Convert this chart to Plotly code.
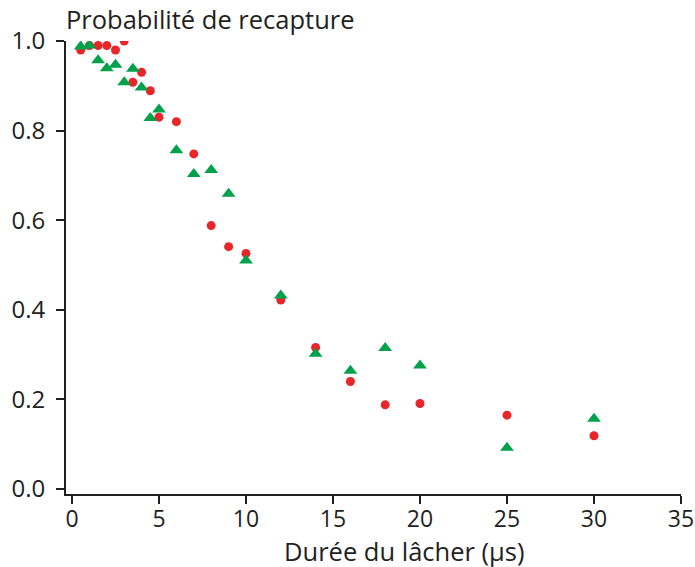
import plotly.graph_objects as go

# Release duration (µs)
red_x = [0.5, 1, 1.5, 2, 2.5, 3, 3.5, 4, 4.5, 5, 6, 7, 8, 9, 10, 12, 14, 16, 18, 20, 25, 30]
red_p = [0.98, 0.99, 0.99, 0.99, 0.98, 1.0, 0.908, 0.93, 0.889, 0.83, 0.82, 0.748, 0.588,
         0.541, 0.526, 0.422, 0.316, 0.24, 0.188, 0.191, 0.165, 0.119]
green_x = [0.5, 1, 1.5, 2, 2.5, 3, 3.5, 4, 4.5, 5, 6, 7, 8, 9, 10, 12, 14, 16, 18, 20, 25, 30]
green_p = [0.988, 0.99, 0.957, 0.939, 0.947, 0.908, 0.938, 0.896, 0.828, 0.847, 0.756, 0.703,
           0.712, 0.659, 0.51, 0.432, 0.302, 0.264, 0.315, 0.276, 0.092, 0.157]

x_ticks = [0, 5, 10, 15, 20, 25, 30, 35]
y_ticks = [0.0, 0.2, 0.4, 0.6, 0.8, 1.0]
y_labels = ["0.0", "0.2", "0.4", "0.6", "0.8", "1.0"]

FONT = "Open Sans"
INK = "#231F20"

fig = go.Figure()
fig.add_trace(go.Scatter(x=red_x, y=red_p, mode="markers",
                         marker=dict(symbol="circle", size=9, color="#E8262A"),
                         showlegend=False))
fig.add_trace(go.Scatter(x=green_x, y=green_p, mode="markers",
                         marker=dict(symbol="triangle-up", size=12, color="#00A14B"),
                         showlegend=False))

fig.update_layout(
    width=695, height=567,
    margin=dict(l=66, r=14, t=41, b=73),
    plot_bgcolor="white", paper_bgcolor="white",
    font=dict(family=FONT, size=24, color=INK),
    xaxis=dict(range=[-0.345, 35], tickvals=x_ticks, showline=True, linecolor=INK,
               linewidth=2, ticks="outside", ticklen=8, tickwidth=2, tickcolor=INK,
               showgrid=False, zeroline=False, ticklabelstandoff=-5, automargin=False,
               tickfont=dict(size=23)),
    yaxis=dict(range=[-0.011, 1.0], tickvals=y_ticks, ticktext=y_labels, showline=True,
               linecolor=INK, linewidth=2, ticks="outside", ticklen=8, tickwidth=2,
               tickcolor=INK, showgrid=False, zeroline=False, ticklabelstandoff=6,
               automargin=False),
    annotations=[
        dict(text="Probabilité de recapture", x=0, y=1, xref="paper", yref="paper",
             xanchor="left", yanchor="middle", showarrow=False, xshift=-2, yshift=22,
             font=dict(size=25.5)),
        dict(text="Durée du lâcher (µs)", x=0.55, y=0, xref="paper", yref="paper",
             xanchor="center", yanchor="middle", showarrow=False, yshift=-57,
             font=dict(size=25.5)),
    ],
)

fig.write_html("out.html", config={"displayModeBar": False},
               post_script="document.body.style.margin='0px';document.body.style.overflow='hidden';")
